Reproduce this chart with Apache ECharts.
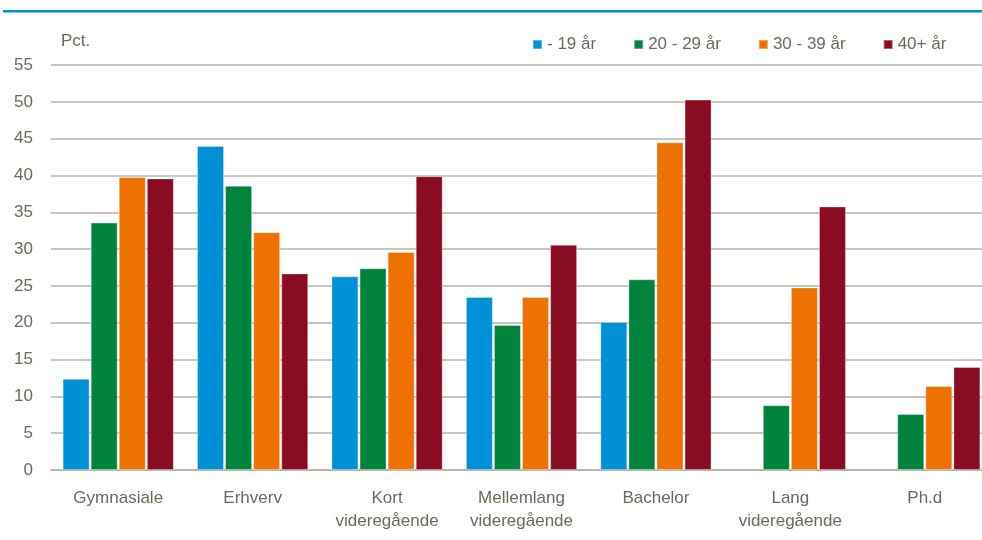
<!DOCTYPE html>
<html><head><meta charset="utf-8">
<script src="https://cdn.jsdelivr.net/npm/echarts@6/dist/echarts.min.js"></script>
<style>html,body{margin:0;padding:0;background:#fff;overflow:hidden;width:982px;height:540px}#c{width:992px;height:540px}</style>
</head><body><div id="c"></div>
<script>
const categories = ['Gymnasiale','Erhverv','Kort\nvideregående','Mellemlang\nvideregående','Bachelor','Lang\nvideregående','Ph.d'];
const seriesNames = ['- 19 år','20 - 29 år','30 - 39 år','40+ år'];
const age19 = [12.4, 44.0, 26.3, 23.5, 20.1, null, null];
const age20_29 = [33.6, 38.6, 27.4, 19.7, 25.9, 8.8, 7.6];
const age30_39 = [39.8, 32.3, 29.6, 23.5, 44.5, 24.8, 11.4];
const age40 = [39.6, 26.7, 39.9, 30.6, 50.3, 35.8, 14.0];
const colors = ['#0090d5','#00843d','#ed7203','#8a0c22'];
const FONT = '"Liberation Sans",Arial,sans-serif';
const TXT = '#6b6a5c';
const GRID = '#b4b4a6';
const chart = echarts.init(document.getElementById('c'));
const data = [age19, age20_29, age30_39, age40];
chart.setOption({
  animation: false,
  textStyle: {fontFamily: FONT},
  graphic: [
    {type:'rect', shape:{x:3,y:10,width:989,height:2.5}, style:{fill:'#0090d5'}},
    {type:'text', left:61, top:33, style:{text:'Pct.', fill:TXT, font:'17px '+FONT}}
  ],
  legend: {
    top: 31, left: 527, itemWidth: 9, itemHeight: 9, itemGap: 37,
    icon: 'rect',
    textStyle: {color: TXT, fontSize: 17, fontFamily: FONT},
    data: seriesNames
  },
  grid: {left: 51, right: 0, top: 65, bottom: 70},
  xAxis: {
    type: 'category', data: categories,
    axisLine: {show:true, lineStyle:{color:GRID, width:1.5}},
    axisTick: {show:false},
    axisLabel: {color: TXT, fontSize: 17, fontFamily: FONT, margin: 17, lineHeight: 23, interval: 0}
  },
  yAxis: {
    type: 'value', min: 0, max: 55, interval: 5,
    axisLine: {show:false}, axisTick: {show:false},
    axisLabel: {color: TXT, fontSize: 17, fontFamily: FONT, margin: 18},
    splitLine: {lineStyle: {color:GRID, width:1.5}}
  },
  series: data.map((d,i)=>({
    name: seriesNames[i], type:'bar', data: d,
    barWidth: 27, barGap: '4%',
    itemStyle: {color: colors[i], borderColor:'rgba(255,255,255,0.35)', borderWidth:1}
  }))
});
</script></body></html>
